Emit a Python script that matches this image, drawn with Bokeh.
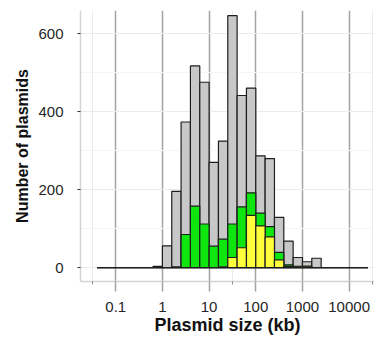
from bokeh.plotting import figure
from bokeh.models import Range1d, FixedTicker, CustomJSTickFormatter, ColumnDataSource
from bokeh.embed import file_html
from bokeh.resources import INLINE

# ---- data (log10 kb bins of width 0.2, first left edge at -1.4) ----
bin_start_log10 = -1.4
bin_width_log10 = 0.2
total_counts = [0, 0, 0, 0, 0, 0, 3, 56, 196, 374, 518, 476, 270, 325, 647,
                442, 461, 287, 280, 129, 68, 26, 15, 24, 0, 0, 0, 0, 0]
green_counts = [0, 0, 0, 0, 0, 0, 0, 0, 2, 85, 158, 112, 55, 73, 112,
                156, 192, 140, 105, 39, 7, 3, 4, 0, 0, 0, 0, 0, 0]
yellow_counts = [0, 0, 0, 0, 0, 0, 0, 0, 0, 0, 0, 0, 0, 2, 26,
                 51, 134, 107, 79, 20, 3, 2, 2, 0, 0, 0, 0, 0, 0]
x_ticks = [0.1, 1, 10, 100, 1000, 10000]
x_minor = [10 ** -1.5, 10 ** 1.5, 10 ** 4.5]
y_ticks = [0, 200, 400, 600]
y_minor = [100, 300, 500]

n = len(total_counts)
left = [10 ** (bin_start_log10 + i * bin_width_log10) for i in range(n)]
right = [10 ** (bin_start_log10 + (i + 1) * bin_width_log10) for i in range(n)]

src = ColumnDataSource(dict(left=left, right=right, total=total_counts,
                            green=green_counts, yellow=yellow_counts))

p = figure(width=374, height=337, x_axis_type="log",
           x_range=Range1d(10 ** -1.755, 10 ** 4.543),
           y_range=Range1d(-35.7, 660.3),
           output_backend="svg", toolbar_location=None,
           min_border_left=80, min_border_right=0, min_border_top=10,
           min_border_bottom=54)
p.outline_line_color = None
p.background_fill_color = "white"

outline = "#1e1e1e"
p.quad(left="left", right="right", bottom=0, top="total", source=src,
       fill_color="#c8c8c8", line_color=outline, line_width=1.2)
p.quad(left="left", right="right", bottom=0, top="green", source=src,
       fill_color="#0fe60f", line_color=outline, line_width=1.2)
p.quad(left="left", right="right", bottom=0, top="yellow", source=src,
       fill_color="#ffff3c", line_color=outline, line_width=1.2)

font = "Liberation Sans"

# x axis
xa = p.xaxis[0]
xa.ticker = FixedTicker(ticks=x_ticks, minor_ticks=x_minor)
xa.formatter = CustomJSTickFormatter(code="return tick.toString();")
xa.axis_line_color = "#d4d4d4"
xa.axis_line_width = 1.5
xa.major_tick_line_color = "#a3a3a3"
xa.major_tick_line_width = 1.5
xa.major_tick_out = 10
xa.major_tick_in = 0
xa.minor_tick_line_color = "#8c8c8c"
xa.minor_tick_out = 3
xa.minor_tick_in = 0
xa.major_label_standoff = 10
xa.major_label_text_font = font
xa.major_label_text_font_size = "15px"
xa.major_label_text_color = "#262626"
xa.axis_label = "Plasmid size (kb)"
xa.axis_label_text_font = font
xa.axis_label_text_font_style = "bold"
xa.axis_label_text_font_size = "18px"
xa.axis_label_text_color = "#111111"
xa.axis_label_standoff = 0

# y axis
ya = p.yaxis[0]
ya.ticker = FixedTicker(ticks=y_ticks, minor_ticks=y_minor)
ya.axis_line_color = "#d4d4d4"
ya.axis_line_width = 1.5
ya.major_tick_line_color = "#333333"
ya.major_tick_out = 3
ya.major_tick_in = 0
ya.minor_tick_out = 0
ya.minor_tick_in = 0
ya.major_label_standoff = 14
ya.major_label_text_font = font
ya.major_label_text_font_size = "15px"
ya.major_label_text_color = "#262626"
ya.axis_label = "Number of plasmids"
ya.axis_label_text_font = font
ya.axis_label_text_font_style = "bold"
ya.axis_label_text_font_size = "16px"
ya.axis_label_text_color = "#111111"
ya.axis_label_standoff = 4

# grids
xg = p.xgrid[0]
xg.ticker = FixedTicker(ticks=x_ticks, minor_ticks=x_minor)
xg.grid_line_color = "#a3a3a3"
xg.grid_line_width = 1.5
xg.minor_grid_line_color = "#ebebeb"
xg.minor_grid_line_width = 1

yg = p.ygrid[0]
yg.ticker = FixedTicker(ticks=y_ticks, minor_ticks=y_minor)
yg.grid_line_color = "#ebebeb"
yg.grid_line_width = 1
yg.minor_grid_line_color = "#f5f5f5"
yg.minor_grid_line_width = 1

open("out.html", "w").write(file_html(p, INLINE))
